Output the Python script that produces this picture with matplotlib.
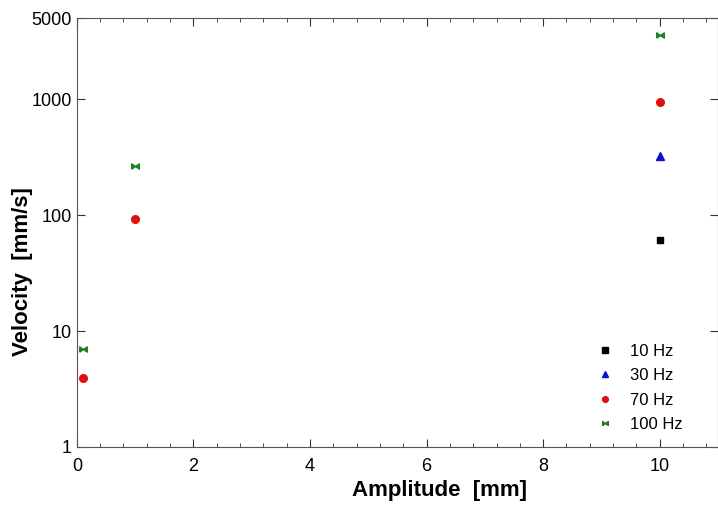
import matplotlib
matplotlib.use('Agg')
import matplotlib.pyplot as plt
from matplotlib.ticker import FixedLocator, MultipleLocator, NullLocator

plt.rcParams['font.family'] = ['Liberation Sans', 'DejaVu Sans']

# Data
amp_10hz = [10]
vel_10hz = [61]
amp_30hz = [10]
vel_30hz = [323]
amp_70hz = [0.1, 1, 10]
vel_70hz = [3.9, 92, 940]
amp_100hz = [0.1, 1, 10]
vel_100hz = [7.0, 264, 3560]

ytick_vals = [1, 10, 100, 1000, 5000]
ytick_labels = ['1', '10', '100', '1000', '5000']

# bowtie marker for 100 Hz
bowtie = [(-1, -0.7), (-1, 0.7), (0, 0), (1, 0.7), (1, -0.7), (0, 0), (-1, -0.7)]

fig = plt.figure(figsize=(7.18, 5.05), dpi=100)
ax = fig.add_axes([0.107, 0.115, 0.893, 0.849])

ax.plot(amp_10hz, vel_10hz, 's', color='black', ms=5, ls='none', label='10 Hz')
ax.plot(amp_30hz, vel_30hz, '^', color='#1010d0', ms=5.5, ls='none', label='30 Hz')
ax.plot(amp_70hz, vel_70hz, 'o', color='#e01010', ms=5.5, ls='none', label='70 Hz')
ax.plot(amp_100hz, vel_100hz, marker=bowtie, color='#208020', ms=5.5, ls='none', label='100 Hz')

ax.set_yscale('log')
ax.set_xlim(0, 11)
ax.set_ylim(1, 5000)
ax.yaxis.set_major_locator(FixedLocator(ytick_vals))
ax.set_yticklabels(ytick_labels)
ax.yaxis.set_minor_locator(NullLocator())
ax.xaxis.set_major_locator(MultipleLocator(2))
ax.xaxis.set_minor_locator(MultipleLocator(0.4))

ax.tick_params(which='both', direction='in', top=True, right=True, labelsize=13, colors='#333333', labelcolor='black')
ax.tick_params(which='major', length=6)
ax.tick_params(which='minor', length=3)
ax.tick_params(axis='x', pad=8)
for s in ax.spines.values():
    s.set_color('#555555')

ax.set_xlabel('Amplitude  [mm]', fontsize=16, fontweight='bold')
ax.xaxis.set_label_coords(0.565, -0.077)
ax.set_ylabel('Velocity  [mm/s]', fontsize=16, fontweight='bold')
ax.yaxis.set_label_coords(-0.069, 0.408)

ax.legend(loc='lower right', bbox_to_anchor=(0.945, 0.035), frameon=False, fontsize=12,
          handletextpad=0.5, labelspacing=0.56, borderaxespad=0, borderpad=0, markerscale=0.75)

fig.savefig('out.png', dpi=100)
